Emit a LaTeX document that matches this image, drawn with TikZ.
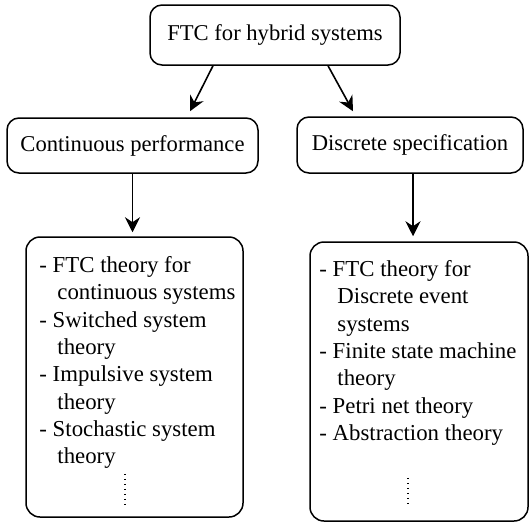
\documentclass[tikz,border=0pt]{standalone}
\usepackage{fontspec}
\setmainfont{Liberation Serif}
\usepackage{tikz}
\usetikzlibrary{arrows.meta,positioning,calc}
\newcommand{\ind}{\hspace*{18pt}}
\tikzset{
  mainbox/.style={draw, rounded corners=12pt, align=center,
                  line width=1.5pt, inner sep=0pt,
                  font=\fontsize{22.6pt}{27.3pt}\selectfont},
  listbox/.style={draw, rounded corners=14pt, line width=1.5pt,
                  inner sep=0pt, minimum width=#1},
  listbox/.default=217pt,
  listtext/.style={align=left, inner sep=0pt,
                  font=\fontsize{22.8pt}{27.3pt}\selectfont},
  arr/.style    ={-{Stealth[length=15pt,width=15pt,inset=5pt]}, line width=1.6pt},
  dotline/.style={line width=2pt, dash pattern=on 1.5pt off 3.5pt},
}
\begin{document}
\begin{tikzpicture}[x=1pt,y=-1pt]
  \useasboundingbox (0,0) rectangle (529,522);
  \node[mainbox, minimum width=250pt, minimum height=60pt] (top) at (275,35) {FTC for hybrid systems};
  \node[mainbox, minimum width=251pt, minimum height=55pt] (cont) at (132.5,145.5) {Continuous performance};
  \node[mainbox, minimum width=226pt, minimum height=56pt] (disc) at (410,145) {Discrete specification};
  % list boxes
  \node[listbox=217pt, minimum height=280pt] (lbox) at (134.5,377) {};
  \node[listbox=218pt, minimum height=279pt] (rbox) at (419,381.5) {};
  \node[listtext, anchor=north west] (ltxt) at ([xshift=14pt,yshift=-20pt]lbox.north west)
    {- FTC theory for\\ \ind continuous systems\\ - Switched system\\ \ind theory\\
     - Impulsive system\\ \ind theory\\ - Stochastic system\\ \ind theory};
  \node[listtext, anchor=north west] (rtxt) at ([xshift=10pt,yshift=-19pt]rbox.north west)
    {- FTC theory for\\ \ind Discrete event\\ \ind systems\\ - Finite state machine\\
     \ind theory\\ - Petri net theory\\ - Abstraction theory};
  \draw[dotline] ([xshift=-10pt,yshift=44pt]lbox.south) -- ([xshift=-10pt,yshift=12pt]lbox.south);
  \draw[dotline] ([xshift=-11pt,yshift=44pt]rbox.south) -- ([xshift=-11pt,yshift=14pt]rbox.south);
  % arrows
  \draw[arr] ([xshift=-62pt]top.south) -- ([xshift=57.5pt,yshift=6pt]cont.north);
  \draw[arr] ([xshift=53pt]top.south) -- ([xshift=-57pt,yshift=5pt]disc.north);
  \draw[arr] (cont.south) -- ([yshift=4pt]cont.south |- lbox.north);
  \draw[arr] ([xshift=3pt]disc.south) -- ([xshift=3pt,yshift=5pt]disc.south |- rbox.north);
\end{tikzpicture}
\end{document}
